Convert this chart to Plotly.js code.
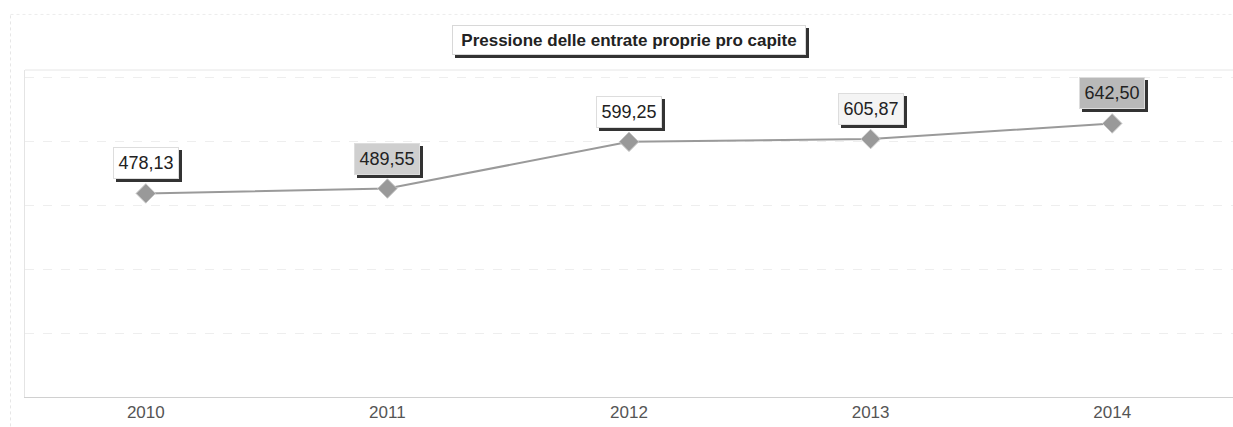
<!DOCTYPE html>
<html><head><meta charset="utf-8">
<script src="https://cdn.plot.ly/plotly-3.0.1.min.js"></script>
<style>html,body{margin:0;padding:0;background:#fff;}#chart{width:1233px;height:427px;}</style>
</head><body><div id="chart"></div>
<script>
const years = ['2010','2011','2012','2013','2014'];
const values = [478.13, 489.55, 599.25, 605.87, 642.50];
const labels = ['478,13','489,55','599,25','605,87','642,50'];
const labelBg = ['#ffffff','#cfcfcf','#ffffff','#f4f4f4','#b9b9b9'];
const chartTitle = 'Pressione delle entrate proprie pro capite';

const trace = {
  x: years, y: values, type: 'scatter', mode: 'lines+markers',
  line: {color: '#9a9a9a', width: 2},
  marker: {symbol: 'diamond', size: 15, color: '#999999', line: {color: '#c8c8c8', width: 1}},
  hoverinfo: 'skip'
};

const FONT = 'Liberation Sans, Arial, sans-serif';
const annotations = [];
// title shadow + box
annotations.push({xref:'paper', yref:'paper', x:0.5, y:1, yanchor:'bottom', yshift:12, xshift:3,
  text: ' ', width:346, height:22, showarrow:false, font:{family:FONT, size:17, color:'#333'},
  bgcolor:'#333', borderpad:3, bordercolor:'#333', borderwidth:1});
annotations.push({xref:'paper', yref:'paper', x:0.5, y:1, yanchor:'bottom', yshift:15,
  text: '<b>' + chartTitle + '</b>', width:346, height:22, showarrow:false, font:{family:FONT, size:17, color:'#222'},
  bgcolor:'#ffffff', borderpad:3, bordercolor:'#d8d8d8', borderwidth:1});
years.forEach((yr, i) => {
  annotations.push({x: i, y: values[i], xref:'x', yref:'y', yshift:27, xshift:3, showarrow:false,
    text: ' ', width:58, height:24, font:{family:FONT, size:18, color:'#333'},
    bgcolor:'#333', bordercolor:'#333', borderwidth:1, borderpad:3});
  annotations.push({x: i, y: values[i], xref:'x', yref:'y', yshift:30, showarrow:false,
    text: labels[i], width:58, height:24, font:{family:FONT, size:18, color:'#222'},
    bgcolor: labelBg[i], bordercolor:'#dddddd', borderwidth:1, borderpad:3});
});

const layout = {
  width: 1233, height: 427,
  margin: {l: 25, r: 0, t: 70, b: 30},
  paper_bgcolor: '#ffffff', plot_bgcolor: '#ffffff',
  showlegend: false,
  xaxis: {type:'category', range:[-0.5, 4.5], showgrid:false, zeroline:false,
    showline:true, linecolor:'#d0d0d0', linewidth:1,
    ticks:'', tickfont:{family:FONT, size:17, color:'#555'}},
  yaxis: {range:[0, 768], dtick:150, showgrid:true, gridcolor:'#eeeeee', griddash:'dash',
    zeroline:false, showticklabels:false, ticks:'', showline:true, linecolor:'#e4e4e4'},
  shapes: [
    {type:'line', xref:'paper', yref:'paper', x0:0, x1:1, y0:1, y1:1, line:{color:'#e6e6e6', width:1}},
    {type:'line', xref:'paper', yref:'paper', x0:-0.012, x1:-0.012, y0:-0.09, y1:1.17, line:{color:'#e6e6e6', width:1, dash:'dot'}},
    {type:'line', xref:'paper', yref:'paper', x0:-0.012, x1:1, y0:1.17, y1:1.17, line:{color:'#ececec', width:1, dash:'dot'}}
  ],
  annotations: annotations
};
Plotly.newPlot('chart', [trace], layout, {displayModeBar:false, staticPlot:true});
</script></body></html>
